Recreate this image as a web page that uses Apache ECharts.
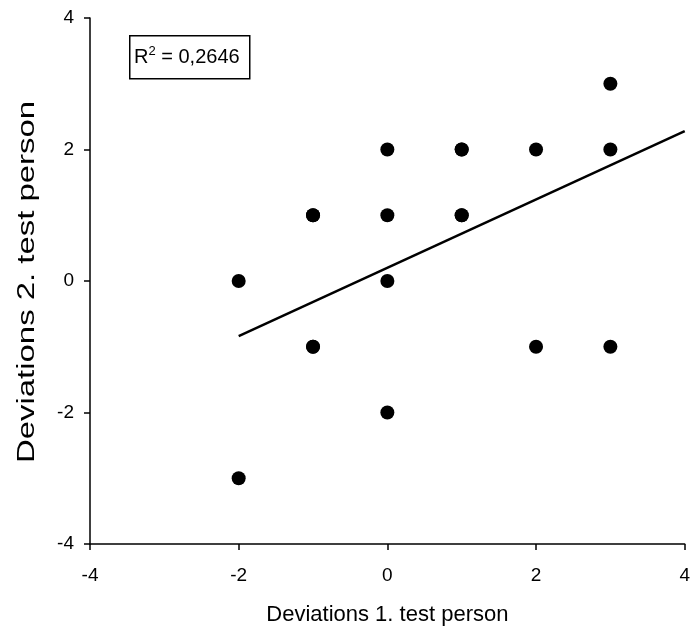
<!DOCTYPE html>
<html>
<head>
<meta charset="utf-8">
<script src="https://cdn.jsdelivr.net/npm/echarts@6/dist/echarts.min.js"></script>
<style>
    html, body { margin: 0; padding: 0; background: #fff; }
    #main { width: 693px; height: 641px; }
</style>
</head>
<body>
<div id="main"></div>
<script>
// 数据点 (x, y)
var pointsX = [-2, -2, -1, -1, -1, -1, 0, 0, 0, 0, 1, 1, 1, 1, 2, 2, 3, 3, 3];
var pointsY = [0, -3, 1, 1, -1, -1, 2, 1, 0, -2, 2, 2, 1, 1, 2, -1, 3, 2, -1];
// 回归线两端
var trendX = [-2, 4];
var trendY = [-0.84, 2.28];
var axisTicks = [-4, -2, 0, 2, 4];
var rSquared = '0,2646';
var xName = 'Deviations 1. test person';
var yName = 'Deviations 2. test person';

(function () {
    var myChart = echarts.init(document.getElementById('main'));
    var scatterData = pointsX.map(function (x, i) { return [x, pointsY[i]]; });
    var lineData = trendX.map(function (x, i) { return [x, trendY[i]]; });
    var font = '"Liberation Sans", Arial, sans-serif';

    var axisCommon = {
        type: 'value',
        min: axisTicks[0],
        max: axisTicks[axisTicks.length - 1],
        interval: 2,
        nameLocation: 'middle',
        nameTextStyle: { color: '#000', fontSize: 22, fontFamily: font },
        axisLine: { show: true, onZero: false, lineStyle: { color: '#000', width: 1.5 } },
        axisTick: { show: true, length: 6, lineStyle: { color: '#000', width: 1.5 } },
        axisLabel: { color: '#000', fontSize: 19, fontFamily: font },
        splitLine: { show: false }
    };

    var option = {
        animation: false,
        backgroundColor: '#fff',
        grid: { left: 90, right: 8, top: 18, bottom: 97 },
        xAxis: Object.assign({}, axisCommon, {
            name: xName,
            nameGap: 60,
            axisLabel: Object.assign({}, axisCommon.axisLabel, { margin: 22 })
        }),
        yAxis: Object.assign({}, axisCommon, {
            axisLabel: Object.assign({}, axisCommon.axisLabel, { margin: 16 })
        }),
        graphic: [{
            // y 轴名称（原图横向拉伸，用 graphic 文本缩放）
            type: 'text',
            x: 28, y: 282,
            rotation: Math.PI / 2,
            scaleX: 1.43,
            style: {
                text: yName,
                fontSize: 23,
                fontFamily: font,
                fill: '#000',
                align: 'center',
                verticalAlign: 'middle'
            }
        }, {
            type: 'rect',
            left: 129, top: 35,
            shape: { width: 120, height: 43 },
            style: { fill: '#fff', stroke: '#000', lineWidth: 1.5 }
        }, {
            type: 'text',
            left: 134, top: 45,
            style: {
                text: '{r|R}{sup|2}{r| = ' + rSquared + '}',
                rich: {
                    r: { fontSize: 20, fontFamily: font, fill: '#000', verticalAlign: 'bottom' },
                    sup: { fontSize: 13, fontFamily: font, fill: '#000', verticalAlign: 'top', padding: [0, 0, 9, 0] }
                }
            }
        }],
        series: [{
            type: 'line',
            data: lineData,
            symbol: 'none',
            lineStyle: { color: '#000', width: 2.5 },
            z: 2
        }, {
            type: 'scatter',
            data: scatterData,
            symbolSize: 14,
            itemStyle: { color: '#000', opacity: 1 },
            z: 3
        }]
    };
    myChart.setOption(option);
    window.addEventListener('resize', function () {
        myChart.resize();
    });
})();
</script>
</body>
</html>
